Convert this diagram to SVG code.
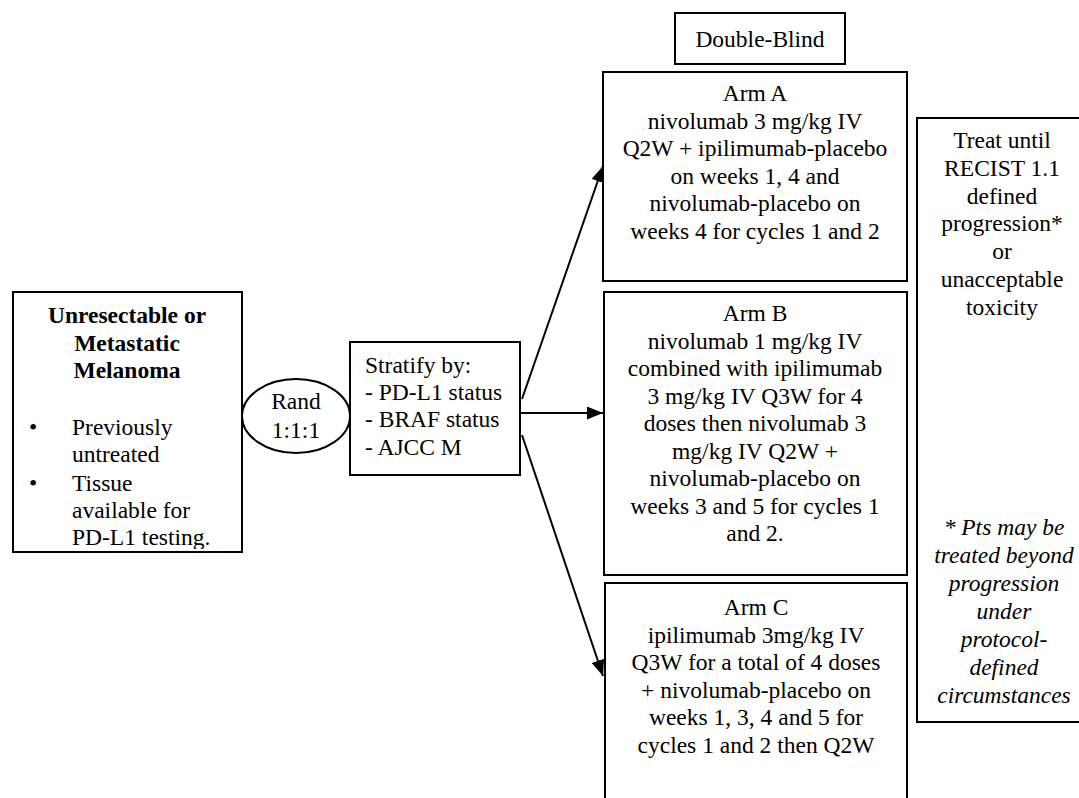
<svg xmlns="http://www.w3.org/2000/svg" width="1079" height="798" viewBox="0 0 1079 798">
<style>
.box{fill:#fff;stroke:#000;stroke-width:2}
.t{font-family:'Liberation Serif','Times New Roman',Times,'DejaVu Serif',serif;font-size:23.5px;fill:#000}
.c{text-anchor:middle}
.b{font-weight:bold}
.i{font-style:italic}
.conn{stroke:#000;stroke-width:2;fill:none}
</style>
<defs>
<marker id="ah" markerUnits="userSpaceOnUse" markerWidth="17" markerHeight="13" refX="16" refY="6.5" orient="auto">
<path d="M0,0 L16,6.5 L0,13 Z" fill="#000"/>
</marker>
<clipPath id="lc"><rect x="13" y="290" width="230" height="259"/></clipPath>
</defs>
<g id="connectors">
<line class="conn" x1="522" y1="399" x2="603" y2="166" marker-end="url(#ah)"/>
<line class="conn" x1="520" y1="413" x2="603" y2="413" marker-end="url(#ah)"/>
<line class="conn" x1="522" y1="435" x2="603" y2="676" marker-end="url(#ah)"/>
</g>
<g id="population" font-family="Liberation Serif, Times New Roman, serif">
<rect class="box" x="13" y="292" width="229" height="260"/>
<g clip-path="url(#lc)">
<text class="t c b" x="127" y="323">Unresectable or</text>
<text class="t c b" x="127" y="351">Metastatic</text>
<text class="t c b" x="127" y="378">Melanoma</text>
<text class="t c" x="33" y="435">•</text>
<text class="t" x="72" y="435">Previously</text>
<text class="t" x="72" y="462">untreated</text>
<text class="t c" x="33" y="491">•</text>
<text class="t" x="72" y="491">Tissue</text>
<text class="t" x="72" y="518">available for</text>
<text class="t" x="72" y="545">PD-L1 testing.</text>
</g>
</g>
<g id="rand">
<ellipse class="box" cx="296" cy="416" rx="54" ry="37"/>
<text class="t c" x="296" y="409">Rand</text>
<text class="t c" x="296" y="438">1:1:1</text>
</g>
<g id="stratify">
<rect class="box" x="350" y="342" width="170" height="133"/>
<text class="t" x="365" y="373">Stratify by:</text>
<text class="t" x="365" y="400">- PD-L1 status</text>
<text class="t" x="365" y="427">- BRAF status</text>
<text class="t" x="365" y="455">- AJCC M</text>
</g>
<g id="double-blind">
<rect class="box" x="675" y="13" width="170" height="51"/>
<text class="t c" x="760" y="47">Double-Blind</text>
</g>
<g id="arm-a">
<rect class="box" x="603" y="72" width="304" height="209"/>
<text class="t c" x="755" y="101">Arm A</text>
<text class="t c" x="755" y="128.6">nivolumab 3 mg/kg IV</text>
<text class="t c" x="755" y="156.2">Q2W + ipilimumab-placebo</text>
<text class="t c" x="755" y="183.8">on weeks 1, 4 and</text>
<text class="t c" x="755" y="211.4">nivolumab-placebo on</text>
<text class="t c" x="755" y="239">weeks 4 for cycles 1 and 2</text>
</g>
<g id="arm-b">
<rect class="box" x="604" y="292" width="303" height="283"/>
<text class="t c" x="755" y="321">Arm B</text>
<text class="t c" x="755" y="348.5">nivolumab 1 mg/kg IV</text>
<text class="t c" x="755" y="376">combined with ipilimumab</text>
<text class="t c" x="755" y="403.5">3 mg/kg IV Q3W for 4</text>
<text class="t c" x="755" y="431">doses then nivolumab 3</text>
<text class="t c" x="755" y="458.5">mg/kg IV Q2W +</text>
<text class="t c" x="755" y="486">nivolumab-placebo on</text>
<text class="t c" x="755" y="513.5">weeks 3 and 5 for cycles 1</text>
<text class="t c" x="755" y="541">and 2.</text>
</g>
<g id="arm-c">
<path class="box" d="M605,800 L605,583 L907,583 L907,800"/>
<text class="t c" x="756" y="615">Arm C</text>
<text class="t c" x="756" y="642.6">ipilimumab 3mg/kg IV</text>
<text class="t c" x="756" y="670.2">Q3W for a total of 4 doses</text>
<text class="t c" x="756" y="697.8">+ nivolumab-placebo on</text>
<text class="t c" x="756" y="725.4">weeks 1, 3, 4 and 5 for</text>
<text class="t c" x="756" y="753">cycles 1 and 2 then Q2W</text>
</g>
<g id="treatment">
<rect class="box" x="917" y="118" width="170" height="604"/>
<text class="t c" x="1002" y="148">Treat until</text>
<text class="t c" x="1002" y="175.8">RECIST 1.1</text>
<text class="t c" x="1002" y="203.6">defined</text>
<text class="t c" x="1002" y="231.4">progression*</text>
<text class="t c" x="1002" y="259.2">or</text>
<text class="t c" x="1002" y="287">unacceptable</text>
<text class="t c" x="1002" y="314.8">toxicity</text>
<text class="t c i" x="1004" y="535">* Pts may be</text>
<text class="t c i" x="1004" y="563">treated beyond</text>
<text class="t c i" x="1004" y="591">progression</text>
<text class="t c i" x="1004" y="619">under</text>
<text class="t c i" x="1004" y="647">protocol-</text>
<text class="t c i" x="1004" y="675">defined</text>
<text class="t c i" x="1004" y="703">circumstances</text>
</g>
</svg>
